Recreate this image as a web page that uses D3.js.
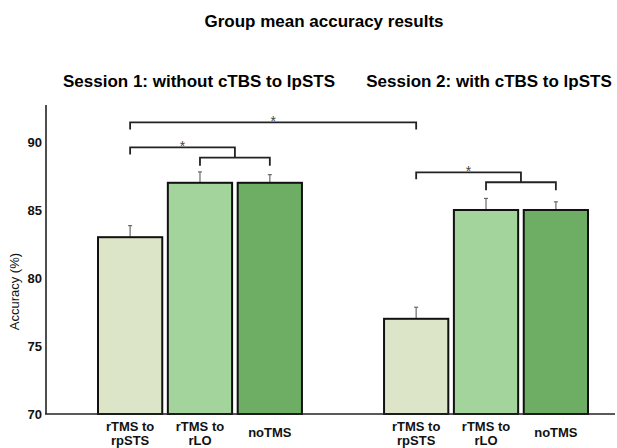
<!DOCTYPE html>
<html><head><meta charset="utf-8">
<script src="https://cdn.jsdelivr.net/npm/d3@7"></script>
<style>body{margin:0;background:#fff}svg{display:block;font-family:"Liberation Sans",Arial,sans-serif}</style>
</head><body><svg id="c" width="617" height="448"></svg>
<script>
const chartTitle = "Group mean accuracy results";
const sessions = ["Session 1: without cTBS to lpSTS", "Session 2: with cTBS to lpSTS"];
const conditions = ["rTMS to rpSTS", "rTMS to rLO", "noTMS"];
const conditionLabelLines = [["rTMS to", "rpSTS"], ["rTMS to", "rLO"], ["noTMS"]];
const session1Means = [83, 87, 87];
const session1Errors = [0.85, 0.8, 0.6];
const session2Means = [77, 85, 85];
const session2Errors = [0.85, 0.85, 0.6];
const yTicks = [70, 75, 80, 85, 90];
const yLabel = "Accuracy (%)";
const barColors = ["#dde5c9", "#a3d49b", "#6dae64"];
// significance brackets: [session, condition] endpoints, level in accuracy units
const innerBrackets = [
  {s: 0, a: 1, b: 2, level: 88.85},
  {s: 1, a: 1, b: 2, level: 87.04}
];
const outerBrackets = [
  {s: 0, a: 0, inner: 0, level: 89.6, star: "*"},
  {s: 1, a: 0, inner: 1, level: 87.77, star: "*"}
];
const crossBracket = {from: [0, 0], to: [1, 0], level: 91.44, star: "*"};

const means = [session1Means, session2Means];
const errs = [session1Errors, session2Errors];
const data = [];
sessions.forEach((s, i) => conditions.forEach((c, j) => data.push({s, c, i, j, v: means[i][j], e: errs[i][j]})));

const svg = d3.select("#c");
const y = d3.scaleLinear().domain([70, 92.72]).range([414, 105]);
const x0 = d3.scaleBand().domain(sessions).range([98, 588]).paddingInner(0.287).paddingOuter(0);
const x1 = d3.scaleBand().domain(conditions).range([0, x0.bandwidth()]).paddingInner(0.08);
const cx = (i, j) => x0(sessions[i]) + x1(conditions[j]) + x1.bandwidth() / 2;

// titles
svg.append("text").attr("x", 324).attr("y", 27).attr("text-anchor", "middle")
  .attr("font-size", 17).attr("font-weight", "bold").text(chartTitle);
const sessionTitleX = [199, 489];
sessions.forEach((s, i) => svg.append("text").attr("x", sessionTitleX[i]).attr("y", 87)
  .attr("text-anchor", "middle").attr("font-size", 17).attr("font-weight", "bold").text(s));

// error bars (behind bars)
svg.append("g").selectAll("g").data(data).join("g").each(function(d) {
  const g = d3.select(this), x = cx(d.i, d.j);
  g.append("line").attr("x1", x).attr("x2", x).attr("y1", y(d.v)).attr("y2", y(d.v + d.e))
    .attr("stroke", "#888").attr("stroke-width", 1.5);
  g.append("line").attr("x1", x - 2).attr("x2", x + 2).attr("y1", y(d.v + d.e)).attr("y2", y(d.v + d.e))
    .attr("stroke", "#666").attr("stroke-width", 1.2);
});

// bars
svg.append("g").selectAll("rect").data(data).join("rect")
  .attr("x", d => x0(d.s) + x1(d.c)).attr("width", x1.bandwidth())
  .attr("y", d => y(d.v)).attr("height", d => y(70) - y(d.v))
  .attr("fill", d => barColors[d.j]).attr("stroke", "#111").attr("stroke-width", 2);

// axes
const yAxis = svg.append("g").attr("transform", "translate(46,0)")
  .call(d3.axisLeft(y).tickValues(yTicks).tickSize(0).tickPadding(4));
yAxis.select(".domain").remove();
yAxis.selectAll("text").attr("font-size", 13).attr("font-weight", "bold").attr("fill", "#111")
  .attr("font-family", "Liberation Sans, Arial, sans-serif");
svg.append("line").attr("x1", 46).attr("x2", 46).attr("y1", y.range()[1]).attr("y2", y(70))
  .attr("stroke", "#222").attr("stroke-width", 1.6);
svg.append("line").attr("x1", 45).attr("x2", 615).attr("y1", y(70)).attr("y2", y(70))
  .attr("stroke", "#222").attr("stroke-width", 1.6);
svg.append("text").attr("transform", `translate(19,${y(79)}) rotate(-90)`).attr("text-anchor", "middle")
  .attr("font-size", 13).attr("fill", "#111").text(yLabel);

// category labels
data.forEach(d => {
  const lines = conditionLabelLines[d.j];
  const t = svg.append("text").attr("x", cx(d.i, d.j)).attr("text-anchor", "middle")
    .attr("font-size", 13).attr("font-weight", "bold").attr("fill", "#111");
  if (lines.length === 1) t.append("tspan").attr("x", cx(d.i, d.j)).attr("y", 437).text(lines[0]);
  else lines.forEach((l, k) => t.append("tspan").attr("x", cx(d.i, d.j)).attr("y", 431 + k * 14).text(l));
});

// brackets
const bg = svg.append("g").attr("fill", "none").attr("stroke", "#222").attr("stroke-width", 1.8);
const drop = 7;
const innerMid = [];
innerBrackets.forEach((b, k) => {
  const xa = cx(b.s, b.a), xb = cx(b.s, b.b), yy = y(b.level);
  innerMid[k] = {x: (xa + xb) / 2, y: yy};
  bg.append("path").attr("d", `M${xa},${yy + drop + 1}V${yy}H${xb}V${yy + drop + 1}`);
});
const star = (x, yy, s) => svg.append("text").attr("x", x).attr("y", yy + 7).attr("text-anchor", "middle")
  .attr("font-size", 14).attr("fill", "#444").text(s);
outerBrackets.forEach(b => {
  const xa = cx(b.s, b.a), m = innerMid[b.inner], yy = y(b.level);
  bg.append("path").attr("d", `M${xa},${yy + drop}V${yy}H${m.x}V${m.y}`);
  star((xa + m.x) / 2, yy - 3, b.star);
});
{
  const xa = cx(...crossBracket.from), xb = cx(...crossBracket.to), yy = y(crossBracket.level);
  bg.append("path").attr("d", `M${xa},${yy + drop}V${yy}H${xb}V${yy + drop}`);
  star((xa + xb) / 2, yy - 3, crossBracket.star);
}
</script></body></html>
